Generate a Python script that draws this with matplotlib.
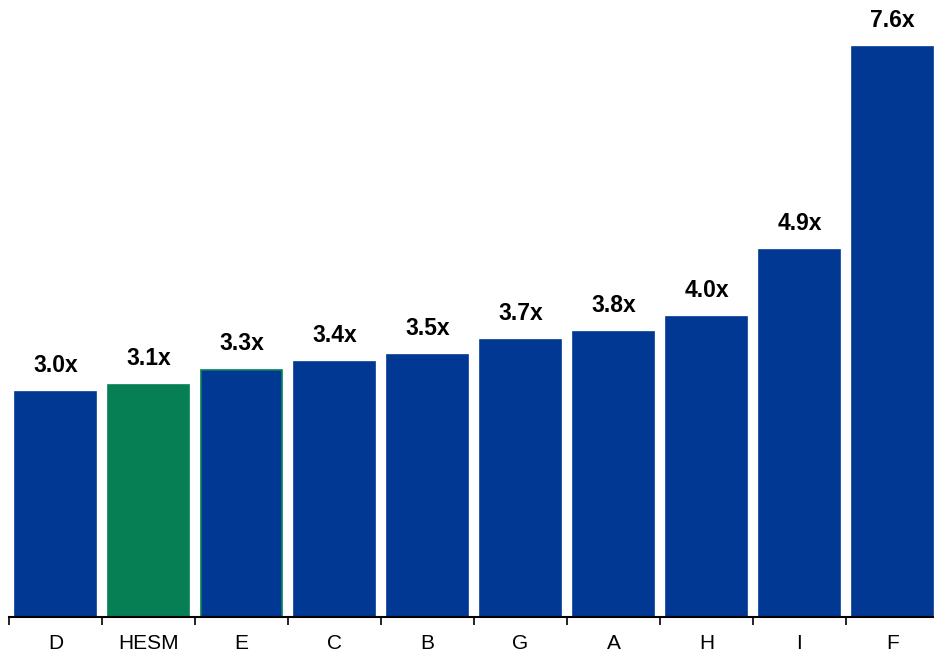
import numpy as np
import matplotlib.pyplot as plt
from matplotlib.ticker import FixedLocator

# multiples par société
societes = ['D', 'HESM', 'E', 'C', 'B', 'G', 'A', 'H', 'I', 'F']
multiples = [3.0, 3.1, 3.3, 3.4, 3.5, 3.7, 3.8, 4.0, 4.9, 7.6]

bleu = '#003893'
vert = '#067f55'

couleurs = [vert if s == 'HESM' else bleu for s in societes]
bords = [vert if s in ('HESM', 'E') else bleu for s in societes]

fig = plt.figure(figsize=(9.34, 6.51), dpi=100)
ax = fig.add_axes([9/934, 34/651, 930/934, 617/651])

x = np.arange(len(societes))
barres = ax.bar(x, multiples, width=0.88, color=couleurs, edgecolor=bords, linewidth=1.2)

for xi, v in zip(x, multiples):
    ax.annotate(f'{v:.1f}x', (xi, v), xytext=(0, 10.5), textcoords='offset points',
                ha='center', va='bottom', fontsize=16.5, fontweight='bold',
                family='Liberation Sans', color='black')

ax.set_xlim(-0.5, len(societes) - 0.5)
ax.set_ylim(0, 617/75)

ax.set_xticks(x)
ax.set_xticklabels(societes, fontsize=15, family='Liberation Sans')
ax.tick_params(axis='x', which='major', length=0, pad=12)
ax.xaxis.set_minor_locator(FixedLocator(np.arange(-0.5, len(societes), 1.0)))
ax.tick_params(axis='x', which='minor', length=6, width=1.2, direction='out', color='black')
ax.set_yticks([])

for s in ['top', 'right', 'left']:
    ax.spines[s].set_visible(False)
ax.spines['bottom'].set_linewidth(1.5)

plt.savefig('out.png', dpi=100)
